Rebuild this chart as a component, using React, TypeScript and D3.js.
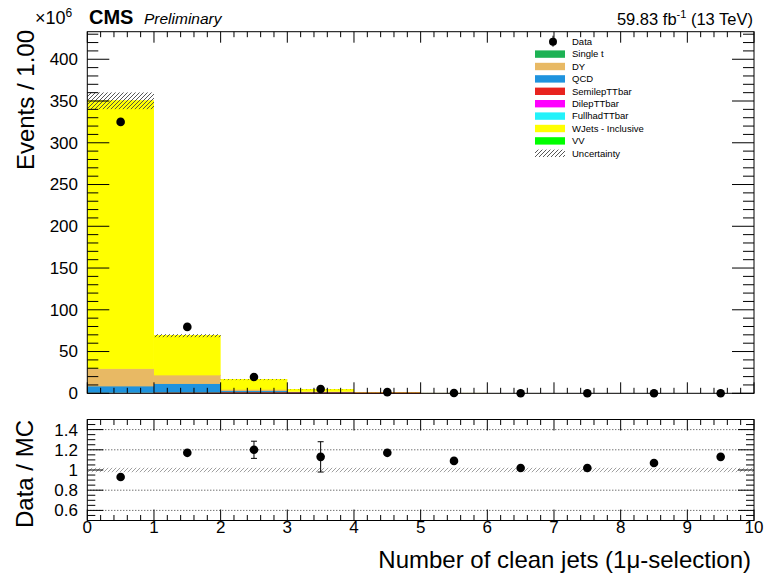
import React from "react";
import * as d3 from "d3";

// ---- data (events in units of 10^6) ----
const binEdges = [0, 1, 2, 3, 4, 5, 6, 7, 8, 9, 10];
const binCenters = [0.5, 1.5, 2.5, 3.5, 4.5, 5.5, 6.5, 7.5, 8.5, 9.5];

const semilepTTbar = [0.3, 0.6, 1.0, 0.9, 0.55, 0.2, 0.07, 0.025, 0.009, 0.003];
const dilepTTbar = [0.05, 0.1, 0.12, 0.08, 0.04, 0.015, 0.005, 0.002, 0.0006, 0.0002];
const fullhadTTbar = [0.01, 0.02, 0.05, 0.06, 0.05, 0.03, 0.015, 0.006, 0.002, 0.0008];
const singleT = [0.3, 0.4, 0.3, 0.15, 0.05, 0.015, 0.005, 0.0015, 0.0005, 0.0002];
const vv = [0.1, 0.08, 0.03, 0.01, 0.003, 0.001, 0.0003, 0.0001, 0.00003, 0.00001];
const qcd = [7.5, 10.0, 1.2, 0.3, 0.05, 0.01, 0.003, 0.001, 0.0003, 0.0001];
const dy = [21, 10.3, 1.6, 0.35, 0.08, 0.02, 0.006, 0.002, 0.0006, 0.0002];
const wjets = [321, 47.5, 12.0, 2.7, 0.45, 0.15, 0.04, 0.012, 0.004, 0.0013];

const dataValues = [325, 79.5, 19.5, 5.1, 1.4, 0.44, 0.12, 0.036, 0.012, 0.0039];
const mcUncertainty = [10, 1.8, 0.5, 0.2, 0.05, 0.02, 0.005, 0.002, 0.0006, 0.0002];

const ratioValues = [0.93, 1.17, 1.2, 1.13, 1.17, 1.09, 1.02, 1.02, 1.07, 1.13];
const ratioErrors = [0.004, 0.006, 0.085, 0.15, 0.01, 0.01, 0.01, 0.01, 0.01, 0.01];
const ratioBand = [0.022, 0.022, 0.022, 0.022, 0.022, 0.022, 0.022, 0.022, 0.022, 0.022];

const yTopTicks = [0, 50, 100, 150, 200, 250, 300, 350, 400];
const yRatioTicks = [0.6, 0.8, 1.0, 1.2, 1.4];
const yRatioTickLabels = ["0.6", "0.8", "1", "1.2", "1.4"];
const xTicks = [0, 1, 2, 3, 4, 5, 6, 7, 8, 9, 10];

// stack order bottom -> top
const stackSeries = [
  { name: "SemilepTTbar", values: semilepTTbar, color: "#e8231f" },
  { name: "DilepTTbar", values: dilepTTbar, color: "#ff00ff" },
  { name: "FullhadTTbar", values: fullhadTTbar, color: "#22f2fa" },
  { name: "Single t", values: singleT, color: "#1db254" },
  { name: "VV", values: vv, color: "#00ff00" },
  { name: "QCD", values: qcd, color: "#1f93de" },
  { name: "DY", values: dy, color: "#e8b964" },
  { name: "WJets - Inclusive", values: wjets, color: "#ffff00" },
];

const legendOrder = [
  "Single t",
  "DY",
  "QCD",
  "SemilepTTbar",
  "DilepTTbar",
  "FullhadTTbar",
  "WJets - Inclusive",
  "VV",
];

const FONT = "'Liberation Sans', Arial, Helvetica, sans-serif";

export default function App() {
  const W = 764;
  const H = 576;
  const x = d3.scaleLinear().domain([0, 10]).range([87.3, 754]);
  const yTop = d3.scaleLinear().domain([0, 433]).range([393.3, 31.7]);
  const yR = d3.scaleLinear().domain([0.5, 1.5]).range([520.5, 419.5]);

  const stack = d3
    .stack<number>()
    .keys(stackSeries.map((s) => s.name))
    .value((i, key) => stackSeries.find((s) => s.name === key)!.values[i]);
  const layers = stack(binCenters.map((_, i) => i));
  const totals = binCenters.map((_, i) =>
    stackSeries.reduce((a, s) => a + s.values[i], 0)
  );

  const x0 = x(0), x1 = x(10);
  const topY0 = yTop(433), topY1 = yTop(0);
  const rY0 = yR(1.5), rY1 = yR(0.5);

  const yTopMinor = d3.range(0, 431, 10);
  const yRMinor = d3.range(0.5, 1.5001, 0.05);
  const xMinor = d3.range(0, 10.0001, 0.2);

  const legendX = 535;
  const legendY0 = 41.7;
  const legendDy = 12.4;

  return (
    <svg
      width={W}
      height={H}
      style={{ position: "absolute", left: 0, top: 0, background: "#fff" }}
      fontFamily={FONT}
    >
      <defs>
        <pattern id="hatch" patternUnits="userSpaceOnUse" width="4" height="4">
          <path d="M-1,1 l2,-2 M0,4 l4,-4 M3,5 l2,-2" stroke="#444" strokeWidth="0.9" />
        </pattern>
        <pattern id="hatchR" patternUnits="userSpaceOnUse" width="4" height="4">
          <path d="M-1,1 l2,-2 M0,4 l4,-4 M3,5 l2,-2" stroke="#888" strokeWidth="0.8" />
        </pattern>
      </defs>
      <rect x={0} y={0} width={W} height={H} fill="#fff" />

      {/* ---------- top panel ---------- */}
      {layers.map((layer, li) => {
        const s = stackSeries[li];
        return (
          <g key={s.name}>
            {layer.map((d, i) => (
              <rect
                key={i}
                x={x(binEdges[i])}
                width={x(binEdges[i + 1]) - x(binEdges[i])}
                y={yTop(d[1])}
                height={Math.max(0, yTop(d[0]) - yTop(d[1]))}
                fill={s.color}
              />
            ))}
            {layer.map((d, i) =>
              yTop(d[0]) - yTop(d[1]) > 0.4 ? (
                <line
                  key={"l" + i}
                  x1={x(binEdges[i])}
                  x2={x(binEdges[i + 1])}
                  y1={yTop(d[1])}
                  y2={yTop(d[1])}
                  stroke={s.color}
                  strokeWidth={1.2}
                />
              ) : null
            )}
          </g>
        );
      })}
      {/* MC uncertainty */}
      {totals.map((t, i) => (
        <rect
          key={"u" + i}
          x={x(binEdges[i])}
          width={x(binEdges[i + 1]) - x(binEdges[i])}
          y={yTop(t + mcUncertainty[i])}
          height={yTop(t - mcUncertainty[i]) - yTop(t + mcUncertainty[i])}
          fill="url(#hatch)"
        />
      ))}
      {/* data */}
      {dataValues.map((v, i) => (
        <circle key={"d" + i} cx={x(binCenters[i])} cy={yTop(v)} r={4.3} fill="#000" />
      ))}

      {/* top frame */}
      <rect x={x0} y={topY0} width={x1 - x0} height={topY1 - topY0} fill="none" stroke="#000" strokeWidth={1} />
      {yTopMinor.map((v) => {
        const major = v % 50 === 0;
        const L = major ? 22 : 11;
        return (
          <g key={"yt" + v}>
            <line x1={x0} x2={x0 + L} y1={yTop(v)} y2={yTop(v)} stroke="#000" />
            <line x1={x1} x2={x1 - L} y1={yTop(v)} y2={yTop(v)} stroke="#000" />
          </g>
        );
      })}
      {xMinor.map((v, k) => {
        const major = k % 5 === 0;
        const L = major ? 11 : 5.5;
        return (
          <g key={"xt" + k}>
            <line x1={x(v)} x2={x(v)} y1={topY1} y2={topY1 - L} stroke="#000" />
            <line x1={x(v)} x2={x(v)} y1={topY0} y2={topY0 + L} stroke="#000" />
          </g>
        );
      })}
      {yTopTicks.map((v) => (
        <text key={"ytl" + v} x={78} y={yTop(v)} dy="0.35em" textAnchor="end" fontSize={17}>
          {v}
        </text>
      ))}
      <text x={35} y={24} fontSize={18}>
        ×10
        <tspan fontSize={12} dy={-7}>6</tspan>
      </text>
      <text transform={`translate(34,30) rotate(-90)`} textAnchor="end" fontSize={24}>
        Events / 1.00
      </text>
      <text x={89} y={24} fontSize={20} fontWeight="bold">CMS</text>
      <text x={144} y={24} fontSize={15.5} fontStyle="italic">Preliminary</text>
      <text x={753} y={25} textAnchor="end" fontSize={16.5}>
        59.83 fb
        <tspan fontSize={11} dy={-7}>-1</tspan>
        <tspan dy={7}> (13 TeV)</tspan>
      </text>

      {/* legend */}
      <g fontSize={9.5}>
        <line x1={553} x2={553} y1={legendY0 - 6} y2={legendY0 + 5} stroke="#000" />
        <circle cx={553} cy={legendY0} r={4} fill="#000" />
        <text x={572} y={legendY0} dy="0.35em">Data</text>
        {legendOrder.map((name, k) => {
          const s = stackSeries.find((q) => q.name === name)!;
          const cy = legendY0 + (k + 1) * legendDy;
          return (
            <g key={name}>
              <rect x={legendX} y={cy - 3.7} width={30} height={7.4} fill={s.color} />
              <text x={572} y={cy} dy="0.35em">{name}</text>
            </g>
          );
        })}
        <rect x={legendX} y={legendY0 + 9 * legendDy - 3.7} width={30} height={7.4} fill="url(#hatch)" />
        <text x={572} y={legendY0 + 9 * legendDy} dy="0.35em">Uncertainty</text>
      </g>

      {/* ---------- ratio panel ---------- */}
      {yRatioTicks.filter((v) => v !== 1).map((v) => (
        <line key={"g" + v} x1={x0} x2={x1} y1={yR(v)} y2={yR(v)} stroke="#000" strokeWidth={0.8} strokeDasharray="1,2" />
      ))}
      {ratioBand.map((b, i) => (
        <rect
          key={"rb" + i}
          x={x(binEdges[i])}
          width={x(binEdges[i + 1]) - x(binEdges[i])}
          y={yR(1 + b)}
          height={yR(1 - b) - yR(1 + b)}
          fill="url(#hatchR)"
        />
      ))}
      {ratioValues.map((r, i) => {
        const cx = x(binCenters[i]);
        const e = ratioErrors[i];
        return (
          <g key={"r" + i}>
            {e > 0.02 && (
              <g stroke="#000" strokeWidth={1}>
                <line x1={cx} x2={cx} y1={yR(r + e)} y2={yR(r - e)} />
                <line x1={cx - 3} x2={cx + 3} y1={yR(r + e)} y2={yR(r + e)} />
                <line x1={cx - 3} x2={cx + 3} y1={yR(r - e)} y2={yR(r - e)} />
              </g>
            )}
            <circle cx={cx} cy={yR(r)} r={4.3} fill="#000" />
          </g>
        );
      })}
      <rect x={x0} y={rY0} width={x1 - x0} height={rY1 - rY0} fill="none" stroke="#000" strokeWidth={1} />
      {yRMinor.map((v, k) => {
        const major = Math.abs(((v - 0.6) / 0.2) - Math.round((v - 0.6) / 0.2)) < 1e-6;
        const L = major ? 16 : 8;
        return (
          <g key={"yr" + k}>
            <line x1={x0} x2={x0 + L} y1={yR(v)} y2={yR(v)} stroke="#000" />
            <line x1={x1} x2={x1 - L} y1={yR(v)} y2={yR(v)} stroke="#000" />
          </g>
        );
      })}
      {xMinor.map((v, k) => {
        const major = k % 5 === 0;
        const L = major ? 11 : 5.5;
        return (
          <g key={"xr" + k}>
            <line x1={x(v)} x2={x(v)} y1={rY1} y2={rY1 - L} stroke="#000" />
            <line x1={x(v)} x2={x(v)} y1={rY0} y2={rY0 + L} stroke="#000" />
          </g>
        );
      })}
      {yRatioTicks.map((v, k) => (
        <text key={"yrl" + k} x={78} y={yR(v)} dy="0.35em" textAnchor="end" fontSize={17}>
          {yRatioTickLabels[k]}
        </text>
      ))}
      {xTicks.map((v) => (
        <text key={"xl" + v} x={x(v)} y={533} textAnchor="middle" fontSize={17}>
          {v}
        </text>
      ))}
      <text transform={`translate(33,420) rotate(-90)`} textAnchor="end" fontSize={24}>
        Data / MC
      </text>
      <text x={751} y={568} textAnchor="end" fontSize={24}>
        Number of clean jets (1μ-selection)
      </text>
    </svg>
  );
}
